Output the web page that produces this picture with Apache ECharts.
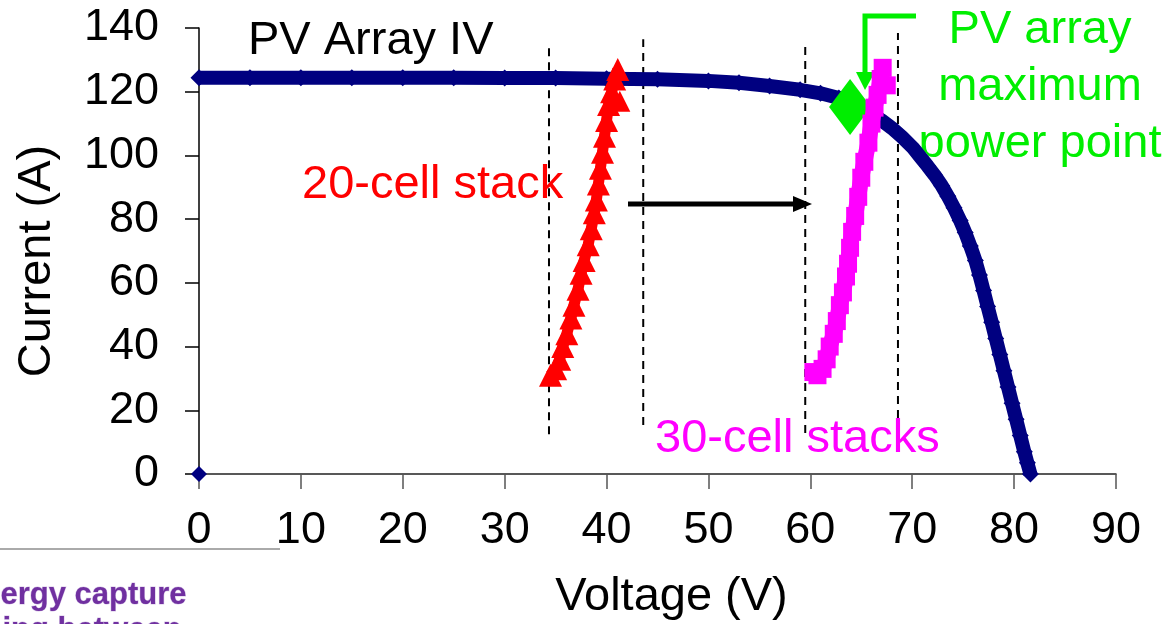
<!DOCTYPE html>
<html><head><meta charset="utf-8">
<script src="https://cdn.jsdelivr.net/npm/echarts@6/dist/echarts.min.js"></script>
<style>html,body{margin:0;padding:0;background:#fff}#c{width:1174px;height:624px}</style>
</head><body><div id="c"></div>
<script>
// PV array IV curve (Voltage V, Current A)
const pvVoltage = [0,5,10,15,20,25,30,35,40,45,50,53,56,59,61,62.8,64,65,66,67,68,69,70.1,70.8,71.5,72.2,72.9,73.5,74.1,74.7,75.2,75.7,76.2,76.6,77.0,77.4,77.8,78.2,78.6,79.0,79.4,79.8,80.2,80.6,81.0,81.3,81.6];
const pvCurrent = [124.4,124.4,124.4,124.4,124.4,124.4,124.3,124.3,124.1,123.9,123.4,122.8,121.8,120.6,119.5,118,116.3,114.8,113,111,108.6,105.8,102.3,99.5,96.7,93.8,90.5,87.2,83.6,79.6,75.8,71.6,67,62.5,57.6,52.6,47.6,42.5,37.5,32.4,27.3,22.2,17.2,12.1,7,3.5,0];
const pvOrigin = [[0,0]];
// 20-cell stack
const stack20V = [34.5,35.0,35.4,35.7,36.1,36.5,36.8,37.2,37.5,37.8,38.2,38.5,38.8,39.0,39.2,39.4,39.6,39.8,40.0,40.2,40.5,40.8,41.1];
const stack20I = [31,33,36,40,44,49,53,58,63,67,72,77,82,86,91,96,101,106,111,116,120,124,127];
const stack20Extra = [[41.3,117]];
// 30-cell stacks
const stack30V = [60.7,61.2,61.6,61.9,62.3,62.6,62.9,63.2,63.5,63.7,63.9,64.1,64.4,64.7,65.0,65.3,65.7,66.0,66.3,66.6,66.9,67.1];
const stack30I = [31,33,36,40,44,48,53,57,62,66,71,76,81,87,93,98,104,110,115,119,124,127.5];
const stack30Extra = [[67.5,122],[60.3,32]];
// maximum power point
const mpp = [[63.9,115.2]];
// dashed guide lines: [voltage, bottom current, top current]
const guides = [[34.35,12.5,134],[43.6,15.4,136.5],[59.5,12.9,134],[68.6,17.6,138.4]];
const xTicks = [0,10,20,30,40,50,60,70,80,90];
const yTicks = [0,20,40,60,80,100,120,140];

const zip = (a,b) => a.map((v,i)=>[v,b[i]]);
const F = 'Liberation Sans, Arial, sans-serif';
const chart = echarts.init(document.getElementById('c'));

const guideSeries = guides.map(g => ({
  type:'line', data:[[g[0],g[1]],[g[0],g[2]]], symbol:'none', silent:true, clip:false,
  lineStyle:{color:'#000', width:2, type:[8,6]}, z:1, animation:false
}));

chart.setOption({
  animation:false,
  grid:{left:199, right:58, top:28, bottom:150, containLabel:false, outerBoundsMode:'none'},
  xAxis:{type:'value', min:0, max:90, interval:10,
    axisLine:{lineStyle:{color:'#222', width:1.5}},
    axisTick:{length:15, lineStyle:{color:'#555', width:1.5}},
    splitLine:{show:false},
    axisLabel:{fontFamily:F, fontSize:45, color:'#000', margin:34},
    name:'Voltage (V)', nameLocation:'middle', nameGap:100,
    nameTextStyle:{fontFamily:F, fontSize:47, color:'#000', padding:[0,0,0,28]}},
  yAxis:{type:'value', min:0, max:140, interval:20,
    axisLine:{show:true, lineStyle:{color:'#000', width:1.5}},
    axisTick:{show:true, length:14, lineStyle:{color:'#000', width:1.5}},
    splitLine:{show:false},
    axisLabel:{fontFamily:F, fontSize:45, color:'#000', margin:40},
    name:'Current (A)', nameLocation:'middle', nameGap:138, nameRotate:90,
    nameTextStyle:{fontFamily:F, fontSize:47, color:'#000', padding:[0,20,0,0]}},
  series:[
    ...guideSeries,
    {type:'line', data:zip(pvVoltage,pvCurrent), symbol:'diamond', symbolSize:17, showAllSymbol:true,
      lineStyle:{color:'#000080', width:14}, itemStyle:{color:'#000080'}, z:2},
    {type:'scatter', data:pvOrigin, symbol:'diamond', symbolSize:16, itemStyle:{color:'#000080', opacity:1}, z:6, clip:false},
    {type:'line', data:zip(stack20V,stack20I), symbol:'triangle', symbolSize:23, showAllSymbol:true,
      lineStyle:{color:'#FF0000', width:11}, itemStyle:{color:'#FF0000'}, z:3},
    {type:'scatter', data:stack20Extra, symbol:'triangle', symbolSize:21, itemStyle:{color:'#FF0000', opacity:1}, z:3},
    {type:'scatter', data:mpp, symbol:'diamond', symbolSize:[42,56], itemStyle:{color:'#00EE00', opacity:1}, z:4},
    {type:'line', data:zip(stack30V,stack30I), symbol:'rect', symbolSize:18, showAllSymbol:true,
      lineStyle:{color:'#FF00FF', width:16}, itemStyle:{color:'#FF00FF'}, z:5},
    {type:'scatter', data:stack30Extra, symbol:'rect', symbolSize:18, itemStyle:{color:'#FF00FF', opacity:1}, z:5}
  ],
  graphic:[
    {type:'text', left:248, top:18, style:{text:'PV Array IV', font:'47px '+F, fill:'#000'}},
    {type:'text', left:302, top:162, style:{text:'20-cell stack', font:'47px '+F, fill:'#FF0000'}},
    {type:'text', left:655, top:416, style:{text:'30-cell stacks', font:'47px '+F, fill:'#FF00FF'}},
    {type:'text', x:1040, y:2, style:{text:'PV array\nmaximum\npower point', font:'47px '+F, fill:'#00EE00', align:'center', lineHeight:57}},
    {type:'polyline', shape:{points:[[916,16],[865,16],[865,76]]}, style:{stroke:'#00EE00', lineWidth:5, fill:null}},
    {type:'polygon', shape:{points:[[856,72],[875,72],[865,90]]}, style:{fill:'#00EE00'}},
    {type:'line', shape:{x1:628,y1:204,x2:795,y2:204}, style:{stroke:'#000', lineWidth:5}},
    {type:'polygon', shape:{points:[[793,196],[812,204],[793,212]]}, style:{fill:'#000'}},
    {type:'line', shape:{x1:0,y1:549,x2:280,y2:549}, style:{stroke:'#aaa', lineWidth:2}},
    {type:'text', left:0, top:579, style:{text:'ergy capture', font:'bold 31px '+F, fill:'#7030A0', stroke:'#d8c8e8', lineWidth:1}},
    {type:'text', left:2, top:614, style:{text:'ing between', font:'bold 31px '+F, fill:'#7030A0', stroke:'#d8c8e8', lineWidth:1}}
  ]
});
</script></body></html>
